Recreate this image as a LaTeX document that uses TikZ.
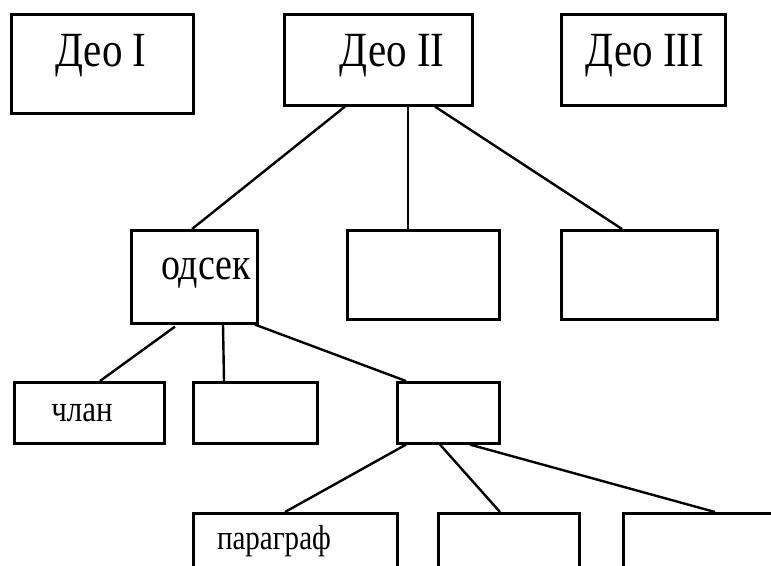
\documentclass[tikz,border=0pt]{standalone}
\usepackage{fontspec}
\setmainfont{Liberation Serif}
\usetikzlibrary{calc}
\begin{document}
\begin{tikzpicture}[x=1pt,y=-1pt,
  box/.style={draw, line width=2.6pt, anchor=north west, inner sep=0pt},
  lbl/.style={inner sep=0pt, yscale=1.2},
  link/.style={line width=2.4pt}]
\useasboundingbox (0,0) rectangle (771,565);
\begin{scope}
\clip (0,0) rectangle (771,565);
% top level
\node[box, minimum width=182pt, minimum height=99pt] (d1) at (10,13) {};
\node[box, minimum width=188pt, minimum height=91pt] (d2) at (283,13) {};
\node[box, minimum width=164pt, minimum height=91pt] (d3) at (560,13) {};
\node[lbl, font=\fontsize{41}{41}\selectfont] (t1) at (101,56) {Део I};
\node[lbl, font=\fontsize{41}{41}\selectfont] (t2) at (392,56) {Део II};
\node[lbl, font=\fontsize{41}{41}\selectfont] (t3) at (645,56) {Део III};
% second level
\node[box, minimum width=126pt, minimum height=93pt] (s1) at (130,229) {};
\node[box, minimum width=152pt, minimum height=89pt] (s2) at (346,229) {};
\node[box, minimum width=156pt, minimum height=89pt] (s3) at (560,229) {};
\node[lbl, font=\fontsize{38}{38}\selectfont] (ts1) at (206,273) {одсек};
% third level
\node[box, minimum width=150pt, minimum height=61pt] (c1) at (13,381) {};
\node[box, minimum width=124pt, minimum height=61pt] (c2) at (192,381) {};
\node[box, minimum width=102pt, minimum height=61pt] (c3) at (396,381) {};
\node[lbl, font=\fontsize{31}{31}\selectfont] (tc1) at (82,413) {члан};
% fourth level
\node[box, minimum width=204pt, minimum height=80pt] (p1) at (192,512) {};
\node[box, minimum width=141pt, minimum height=80pt] (p2) at (437,512) {};
\node[box, minimum width=170pt, minimum height=80pt] (p3) at (622,512) {};
\node[lbl, font=\fontsize{29}{29}\selectfont] (tp1) at (274,541) {параграф};
% connectors
\draw[link] ($(d2.south west)+(62,0)$) -- ($(s1.north west)+(62,0)$);
\draw[link] ($(d2.south west)+(125,0)$) -- ($(s2.north west)+(62,0)$);
\draw[link] ($(d2.south west)+(152,0)$) -- ($(s3.north west)+(62,0)$);
\draw[link] ($(s1.south west)+(45,2)$) -- ($(c1.north west)+(87,0)$);
\draw[link] ($(s1.south west)+(93,0)$) -- ($(c2.north west)+(32,0)$);
\draw[link] ($(s1.south west)+(125,0)$) -- ($(c3.north west)+(10,0)$);
\draw[link] ($(c3.south west)+(10,0)$) -- ($(p1.north west)+(93,0)$);
\draw[link] ($(c3.south west)+(44,0)$) -- ($(p2.north west)+(63,0)$);
\draw[link] ($(c3.south west)+(74,0)$) -- ($(p3.north west)+(93,0)$);
\end{scope}
\end{tikzpicture}
\end{document}
